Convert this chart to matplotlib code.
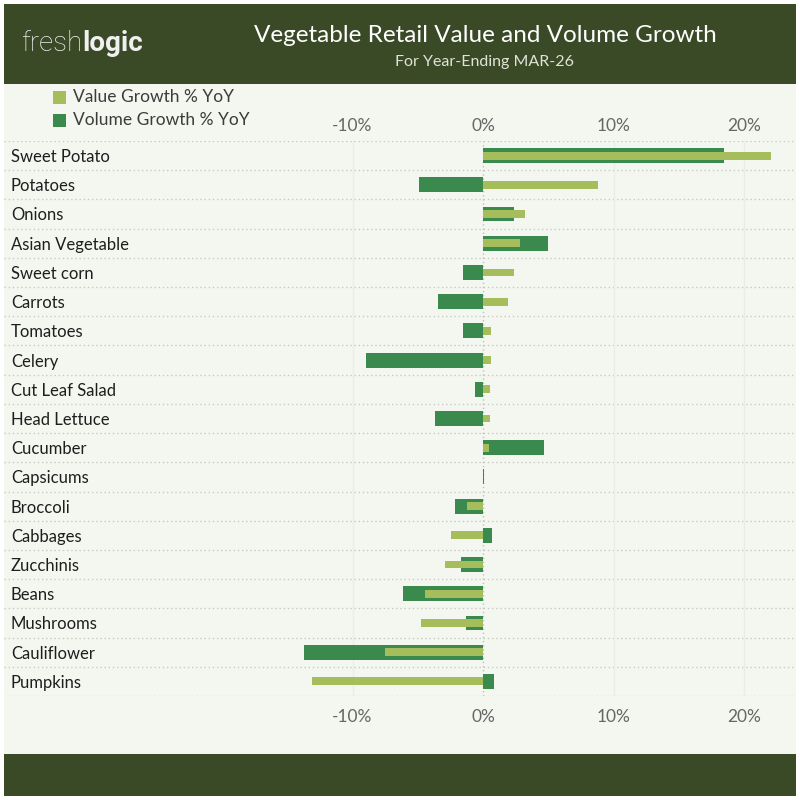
import matplotlib
matplotlib.use("Agg")
import matplotlib.pyplot as plt
from matplotlib.patches import Rectangle
from matplotlib.transforms import blended_transform_factory

categories = ["Sweet Potato", "Potatoes", "Onions", "Asian Vegetable", "Sweet corn",
              "Carrots", "Tomatoes", "Celery", "Cut Leaf Salad", "Head Lettuce",
              "Cucumber", "Capsicums", "Broccoli", "Cabbages", "Zucchinis",
              "Beans", "Mushrooms", "Cauliflower", "Pumpkins"]
value_growth = [22.1, 8.8, 3.2, 2.8, 2.4, 1.9, 0.6, 0.6, 0.5, 0.5,
                0.45, 0.02, -1.2, -2.45, -2.9, -4.45, -4.75, -7.5, -13.1]
volume_growth = [18.5, -4.9, 2.4, 5.0, -1.5, -3.45, -1.5, -9.0, -0.6, -3.7,
                 4.7, 0.08, -2.15, 0.7, -1.7, -6.1, -1.3, -13.7, 0.85]
ticks = [-10, 0, 10, 20]
tick_labels = ["-10%", "0%", "10%", "20%"]

W, H = 800, 800
C_VAL = "#a5bd5b"
C_VOL = "#3a8a4e"
C_HEAD = "#3a4a27"
C_BG = "#f4f7f0"
FONT = "Lato"

fig = plt.figure(figsize=(8, 8), dpi=100)
fig.patch.set_facecolor("white")

def fx(px):
    return px / W

def fy(py):
    return 1 - py / H

# background panels
fig.patches.append(Rectangle((fx(4), fy(754)), fx(792), 670 / H, transform=fig.transFigure,
                             facecolor=C_BG, edgecolor="none", zorder=-5))
fig.patches.append(Rectangle((fx(4), fy(84)), fx(792), 80 / H, transform=fig.transFigure,
                             facecolor=C_HEAD, edgecolor="none", zorder=-5))
fig.patches.append(Rectangle((fx(4), fy(796)), fx(792), 42 / H, transform=fig.transFigure,
                             facecolor=C_HEAD, edgecolor="none", zorder=-5))

# header text
fig.text(fx(485), fy(36), "Vegetable Retail Value and Volume Growth", color="white",
         fontsize=17.5, family=FONT, ha="center", va="center")
fig.text(fx(485), fy(62), "For Year-Ending MAR-26", color="#e0e4d8",
         fontsize=11.5, family=FONT, ha="center", va="center")
t1 = fig.text(fx(21), fy(51), "fresh", color="#f0f0f0", fontsize=20, family="Roboto",
              fontweight="light", ha="left", va="baseline")
fig.canvas.draw()
bb = t1.get_window_extent()
fig.text(bb.x1 / W, fy(51), "logic", color="#f0f0f0", fontsize=20, family="Roboto",
         fontweight="bold", ha="left", va="baseline")

# legend
for py, lab, col in [(97, "Value Growth % YoY", C_VAL), (120, "Volume Growth % YoY", C_VOL)]:
    fig.patches.append(Rectangle((fx(53), fy(py + 6.5)), fx(13), 13 / H, transform=fig.transFigure,
                                 facecolor=col, edgecolor="none", zorder=2))
    fig.text(fx(73), fy(py), lab, color="#3c3c3c", fontsize=12.5, family=FONT,
             ha="left", va="center")

# axes
top_px, bot_px = 141, 696
ax = fig.add_axes([fx(4), fy(bot_px), fx(792), (bot_px - top_px) / H])
ax.set_facecolor("none")
zero_px, per_pct = 483, 13.05
ax.set_xlim((4 - zero_px) / per_pct, (796 - zero_px) / per_pct)
n = len(categories)
ax.set_ylim(n, 0)
for s in ax.spines.values():
    s.set_visible(False)

ys = [i + 0.5 for i in range(n)]
ax.barh(ys, volume_growth, height=0.51, color=C_VOL, zorder=3)
ax.barh(ys, value_growth, height=0.27, color=C_VAL, zorder=4)

for b in range(n + 1):
    ax.axhline(b, color="#c9c9c5", linestyle=(0, (1, 2)), linewidth=1, zorder=1)
for t in ticks:
    if t == 0:
        ax.axvline(t, color="#c0c0bc", linestyle=(0, (1, 2)), linewidth=1, zorder=2)
    else:
        ax.axvline(t, color="#eaece6", linewidth=1, zorder=1)

ax.set_yticks([])
ax.set_xticks(ticks)
ax.set_xticklabels(tick_labels)
ax.tick_params(axis="x", length=0, labelbottom=True, pad=9,
               labelsize=12.5, labelcolor="#666666")
for lab in ax.get_xticklabels():
    lab.set_family(FONT)

sec = ax.secondary_xaxis("top")
sec.set_xticks(ticks)
sec.set_xticklabels(tick_labels)
sec.tick_params(axis="x", length=0, pad=5, labelsize=12.5, labelcolor="#666666")
for lab in sec.get_xticklabels():
    lab.set_family(FONT)
for s in sec.spines.values():
    s.set_visible(False)

tr = blended_transform_factory(ax.transAxes, ax.transData)
for y, c in zip(ys, categories):
    ax.text((11 - 4) / 792, y + 0.05, c, transform=tr, ha="left", va="center",
            fontsize=12, family=FONT, color="#1e1e1e")

fig.savefig("out.png", dpi=100, facecolor=fig.get_facecolor())
